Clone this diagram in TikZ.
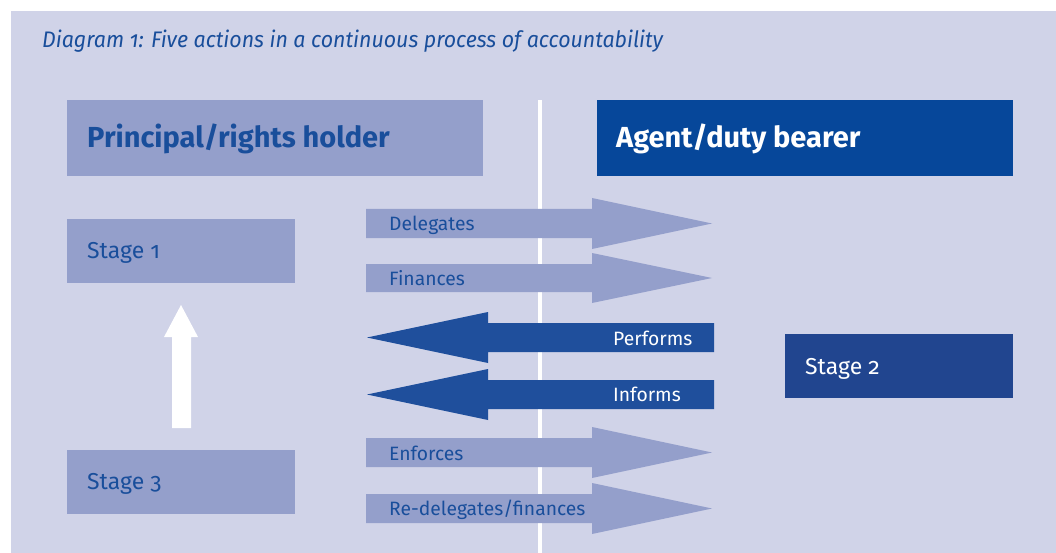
\documentclass[tikz,border=0pt]{standalone}
\usepackage{fontspec}
\setmainfont{Fira Sans}[Numbers=OldStyle]
\newfontfamily\titlefont{Fira Sans}[Numbers=OldStyle, FakeStretch=0.95]
\definecolor{panel}{RGB}{208,211,232}
\definecolor{mid}{RGB}{148,159,203}
\definecolor{txtblue}{RGB}{25,78,155}
\definecolor{agent}{RGB}{6,71,154}
\definecolor{darkarrow}{RGB}{31,79,156}
\definecolor{stagetwo}{RGB}{33,69,143}
\tikzset{
  headbox/.style={rectangle, anchor=north west, minimum width=416pt, minimum height=76pt, inner sep=0pt},
  stagebox/.style={rectangle, anchor=north west, minimum width=228pt, minimum height=64pt, inner sep=0pt},
  headtxt/.style={anchor=base west, inner sep=0pt, font=\bfseries\fontsize{29}{32}\selectfont},
  stagetxt/.style={anchor=base west, inner sep=0pt, font=\fontsize{23}{26}\selectfont},
  lbl/.style={anchor=base west, inner sep=0pt, font=\fontsize{19.3}{22}\selectfont},
  rarrow/.style={fill=mid},
  larrow/.style={fill=darkarrow}
}
\begin{document}
\begin{tikzpicture}[x=1pt,y=-1pt]
\useasboundingbox (0,0) rectangle (1056,553);
\fill[white] (0,0) rectangle (1056,553);
\fill[panel] (11,11) rectangle (1056,553);
\node[anchor=base west, inner sep=0pt, text=txtblue, font=\titlefont\itshape\fontsize{22.5}{26}\selectfont] (title) at (42,47.5) {Diagram 1: Five actions in a continuous process of accountability};
% divider
\draw[white, line width=3.5pt] (540,100) coordinate (divtop) -- (540,553) coordinate (divbot);
% header boxes
\node[headbox, fill=mid] (principal) at (67,100) {};
\node[headtxt, text=txtblue] (principaltxt) at (87,148) {Principal/rights holder};
\node[headbox, fill=agent] (agent) at (597,100) {};
\node[headtxt, text=white] (agenttxt) at (616,148) {Agent/duty bearer};
% stage boxes
\node[stagebox, fill=mid] (stage1) at (67,219) {};
\node[stagetxt, text=txtblue] (stage1txt) at (87,258) {Stage 1};
\node[stagebox, fill=mid] (stage3) at (67,450) {};
\node[stagetxt, text=txtblue] (stage3txt) at (87,489) {Stage 3};
\node[stagebox, fill=stagetwo] (stage2) at (785,334) {};
\node[stagetxt, text=white] (stage2txt) at (805,374) {Stage 2};
% white up arrow
\fill[white] (172,428) -- (172,337) -- (164,337) -- (181,305) -- (198,337) -- (191,337) -- (191,428) -- cycle;
% right arrows
\fill[rarrow] (366,209) -- (592,209) -- (592,198) -- (712,223.5) -- (592,249) -- (592,238) -- (366,238) -- cycle;
\node[lbl, text=txtblue] (delegates) at (389,230.5) {Delegates};
\fill[rarrow] (366,264) -- (592,264) -- (592,253) -- (712,278) -- (592,303) -- (592,292) -- (366,292) -- cycle;
\node[lbl, text=txtblue] (finances) at (389,285) {Finances};
% left arrows
\fill[larrow] (714,323) -- (488,323) -- (488,312) -- (367,337.5) -- (488,363) -- (488,352) -- (714,352) -- cycle;
\node[lbl, text=white] (performs) at (613,345) {Performs};
\fill[larrow] (714,380) -- (488,380) -- (488,369) -- (367,394.5) -- (488,420) -- (488,409) -- (714,409) -- cycle;
\node[lbl, text=white] (informs) at (613,401.5) {Informs};
% lower right arrows
\fill[rarrow] (366,438) -- (592,438) -- (592,427) -- (712,452.5) -- (592,478) -- (592,467) -- (366,467) -- cycle;
\node[lbl, text=txtblue] (enforces) at (389,460.5) {Enforces};
\fill[rarrow] (366,494) -- (592,494) -- (592,483) -- (712,508.5) -- (592,534) -- (592,523) -- (366,523) -- cycle;
\node[lbl, text=txtblue] (redelegates) at (389,515) {Re-delegates/finances};
\end{tikzpicture}
\end{document}
